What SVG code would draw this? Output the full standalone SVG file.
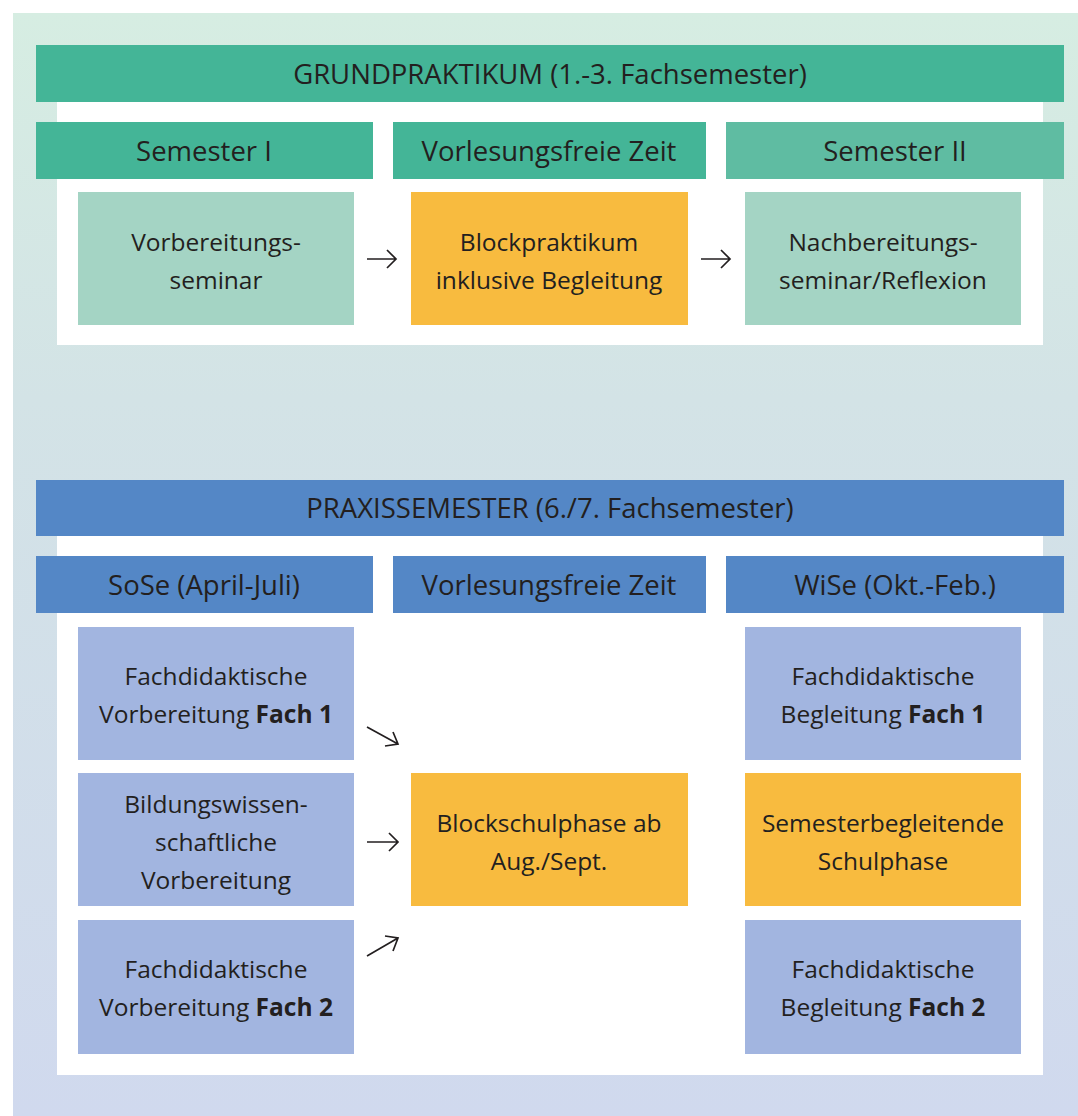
<svg xmlns="http://www.w3.org/2000/svg" width="1078" height="1116" viewBox="0 0 1078 1116">
<defs>
<linearGradient id="bg" x1="0" y1="0" x2="0" y2="1">
<stop offset="0" stop-color="#d6ede2"/>
<stop offset="0.35" stop-color="#d3e3e6"/>
<stop offset="1" stop-color="#d0d9ee"/>
</linearGradient>
<style>
text{font-family:"Open Sans","Noto Sans","Liberation Sans",sans-serif;fill:#231f20;text-anchor:middle}
.h{font-size:27.5px}
.t{font-size:24.5px}
.gh{fill:#44b597}
.gh2{fill:#5fbca2}
.gb{fill:#a4d4c4}
.or{fill:#f8bb3f}
.bh{fill:#5487c6}
.bb{fill:#a2b5e0}
.pn{fill:#ffffff}
.ar{stroke:#231f20;stroke-width:1.7;fill:none}
.b{font-weight:bold}
</style>
</defs>
<rect x="0" y="0" width="1078" height="1116" fill="#ffffff"/>
<rect x="13" y="13" width="1065" height="1103" fill="url(#bg)"/>

<g id="grund-panel"><rect class="pn" x="57" y="102" width="986" height="243"/></g>
<g id="grund-header"><rect class="gh" x="36" y="45" width="1028" height="57"/><text class="h" x="550" y="84">GRUNDPRAKTIKUM (1.-3. Fachsemester)</text></g>
<g id="sem1"><rect class="gh" x="36" y="122" width="337" height="57"/><text class="h" x="204" y="161">Semester I</text></g>
<g id="vfz1"><rect class="gh" x="393" y="122" width="313" height="57"/><text class="h" x="549" y="161">Vorlesungsfreie Zeit</text></g>
<g id="sem2"><rect class="gh2" x="726" y="122" width="338" height="57"/><text class="h" x="895" y="161">Semester II</text></g>
<g id="vorb"><rect class="gb" x="78" y="192" width="276" height="133"/><text class="t" x="216" y="251">Vorbereitungs-</text><text class="t" x="216" y="289">seminar</text></g>
<g id="block"><rect class="or" x="411" y="192" width="277" height="133"/><text class="t" x="549" y="251">Blockpraktikum</text><text class="t" x="549" y="289">inklusive Begleitung</text></g>
<g id="nachb"><rect class="gb" x="745" y="192" width="276" height="133"/><text class="t" x="883" y="251">Nachbereitungs-</text><text class="t" x="883" y="289">seminar/Reflexion</text></g>

<g id="praxis-panel"><rect class="pn" x="57" y="536" width="986" height="539"/></g>
<g id="praxis-header"><rect class="bh" x="36" y="480" width="1028" height="56"/><text class="h" x="550" y="518">PRAXISSEMESTER (6./7. Fachsemester)</text></g>
<g id="sose"><rect class="bh" x="36" y="556" width="337" height="57"/><text class="h" x="204" y="595">SoSe (April-Juli)</text></g>
<g id="vfz2"><rect class="bh" x="393" y="556" width="313" height="57"/><text class="h" x="549" y="595">Vorlesungsfreie Zeit</text></g>
<g id="wise"><rect class="bh" x="726" y="556" width="338" height="57"/><text class="h" x="895" y="595">WiSe (Okt.-Feb.)</text></g>
<g id="fdv1"><rect class="bb" x="78" y="627" width="276" height="133"/><text class="t" x="216" y="685">Fachdidaktische</text><text class="t" x="216" y="723">Vorbereitung <tspan class="b">Fach 1</tspan></text></g>
<g id="bwv"><rect class="bb" x="78" y="773" width="276" height="133"/><text class="t" x="216" y="813">Bildungswissen-</text><text class="t" x="216" y="851">schaftliche</text><text class="t" x="216" y="889">Vorbereitung</text></g>
<g id="fdv2"><rect class="bb" x="78" y="920" width="276" height="134"/><text class="t" x="216" y="978">Fachdidaktische</text><text class="t" x="216" y="1016">Vorbereitung <tspan class="b">Fach 2</tspan></text></g>
<g id="blockschul"><rect class="or" x="411" y="773" width="277" height="133"/><text class="t" x="549" y="832">Blockschulphase ab</text><text class="t" x="549" y="870">Aug./Sept.</text></g>
<g id="fdb1"><rect class="bb" x="745" y="627" width="276" height="133"/><text class="t" x="883" y="685">Fachdidaktische</text><text class="t" x="883" y="723">Begleitung <tspan class="b">Fach 1</tspan></text></g>
<g id="sbs"><rect class="or" x="745" y="773" width="276" height="133"/><text class="t" x="883" y="832">Semesterbegleitende</text><text class="t" x="883" y="870">Schulphase</text></g>
<g id="fdb2"><rect class="bb" x="745" y="920" width="276" height="134"/><text class="t" x="883" y="978">Fachdidaktische</text><text class="t" x="883" y="1016">Begleitung <tspan class="b">Fach 2</tspan></text></g>

<g id="connectors">
<path class="ar" d="M367 259 H396 M387 250 L396 259 L387 268"/>
<path class="ar" d="M701 259 H730 M721 250 L730 259 L721 268"/>
<path class="ar" d="M367 727 L398 744 M385 746 L398 744 L393 732"/>
<path class="ar" d="M367 842 H398 M389 833 L398 842 L389 851"/>
<path class="ar" d="M367 956 L398 938 M385 936 L398 938 L393 951"/>
</g>
</svg>
